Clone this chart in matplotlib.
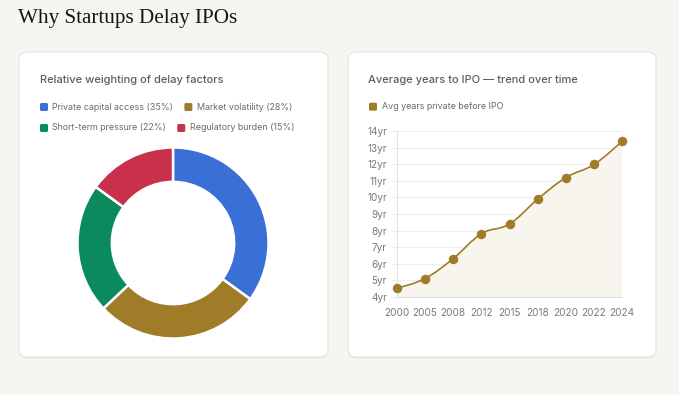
import numpy as np
import matplotlib
matplotlib.use("Agg")
from matplotlib import pyplot as plt
from matplotlib.patches import FancyBboxPatch, PathPatch
from matplotlib.path import Path
from matplotlib.transforms import IdentityTransform

W, H = 679, 395

# donut data
factor_labels = ["Private capital access", "Market volatility",
                 "Short-term pressure", "Regulatory burden"]
factor_share = [35, 28, 22, 15]
factor_colors = ["#3a6fd6", "#a07b28", "#0b8a5e", "#c8304b"]

# trend data
years = ["2000", "2005", "2008", "2012", "2015", "2018", "2020", "2022", "2024"]
avg_years = [4.5, 5.1, 6.3, 7.8, 8.4, 9.9, 11.2, 12.0, 13.4]
trend_label = "Avg years private before IPO"
trend_color = "#a07b28"

BG = "#f7f5f1"
SANS = ["Inter", "DejaVu Sans"]


def pt(px):
    return px * 0.72


def fbox(l, t, w, h):
    return [l / W, 1 - (t + h) / H, w / W, h / H]


def card(fig, l, t, r, b):
    shadow = FancyBboxPatch((l, H - b - 1.5), r - l, b - t,
                            boxstyle="round,pad=0,rounding_size=8",
                            fc="#ebe7e1", ec="none", transform=IdentityTransform(), zorder=-2)
    fig.add_artist(shadow)
    p = FancyBboxPatch((l, H - b), r - l, b - t,
                       boxstyle="round,pad=0,rounding_size=8",
                       fc="white", ec="#e7e3dd", lw=0.8, transform=IdentityTransform(), zorder=-1)
    fig.add_artist(p)


def legend_item(fig, renderer, x, y, color, label):
    sq = FancyBboxPatch((x, H - y - 4), 8, 8, boxstyle="round,pad=0,rounding_size=1.5",
                        fc=color, ec="none", transform=IdentityTransform())
    fig.add_artist(sq)
    t = fig.text((x + 12.5) / W, 1 - y / H, label, fontsize=pt(8.9), color="#6b6b6b",
                 va="center", ha="left", family=SANS)
    bb = t.get_window_extent(renderer)
    return bb.x1


fig = plt.figure(figsize=(W / 100, H / 100), dpi=100, facecolor=BG)
renderer = fig.canvas.get_renderer()

fig.text(18 / W, 1 - 19 / H, "Why Startups Delay IPOs", fontsize=pt(21.2),
         family=["Liberation Serif", "DejaVu Serif"], color="#151515", va="center", ha="left")

card(fig, 19, 52, 328, 357)
card(fig, 348, 52, 656, 357)

# ---- left card: donut
fig.text(40 / W, 1 - 80 / H, "Relative weighting of delay factors", fontsize=pt(11.1),
         color="#5e5e5e", fontweight="medium", family=SANS, va="center")

rows = [[0, 1], [2, 3]]
for ri, row in enumerate(rows):
    x = 40
    for i in row:
        x1 = legend_item(fig, renderer, x, 107 + ri * 21, factor_colors[i],
                         f"{factor_labels[i]} ({factor_share[i]}%)")
        x = x1 + 11

ax1 = fig.add_axes(fbox(173 - 96, 243 - 96, 192, 192))
ax1.pie(factor_share, colors=factor_colors, startangle=90, counterclock=False, radius=1,
        wedgeprops=dict(width=0.36, edgecolor="white", linewidth=1.8))
ax1.set_xlim(-1.005, 1.005)
ax1.set_ylim(-1.005, 1.005)
ax1.set_aspect("equal")
ax1.axis("off")

# ---- right card: trend line
fig.text(368 / W, 1 - 80 / H, "Average years to IPO \u2014 trend over time", fontsize=pt(11.1),
         color="#5e5e5e", fontweight="medium", family=SANS, va="center")
legend_item(fig, renderer, 369, 106.7, trend_color, trend_label)

ax2 = fig.add_axes(fbox(396.7, 131.3, 225.6, 165.4))
ax2.set_facecolor("none")
xs = np.arange(len(years))
ys = np.array(avg_years)

# chart.js-like bezier through the points
tension = 0.4
verts = [(xs[0], ys[0])]
codes = [Path.MOVETO]
for i in range(len(xs) - 1):
    p0 = max(i - 1, 0)
    p3 = min(i + 2, len(xs) - 1)
    c1 = (xs[i] + tension * 0.5 * (xs[i + 1] - xs[p0]), ys[i] + tension * 0.5 * (ys[i + 1] - ys[p0]))
    c2 = (xs[i + 1] - tension * 0.5 * (xs[p3] - xs[i]), ys[i + 1] - tension * 0.5 * (ys[p3] - ys[i]))
    verts += [c1, c2, (xs[i + 1], ys[i + 1])]
    codes += [Path.CURVE4] * 3

fill_verts = verts + [(xs[-1], 4), (xs[0], 4), (xs[0], ys[0])]
fill_codes = codes + [Path.LINETO, Path.LINETO, Path.CLOSEPOLY]
ax2.add_patch(PathPatch(Path(fill_verts, fill_codes), fc="#f8f4ee", ec="none", zorder=1))
ax2.add_patch(PathPatch(Path(verts, codes), fc="none", ec=trend_color, lw=1.2, zorder=3,
                        clip_on=False))
ax2.plot(xs, ys, "o", color=trend_color, ms=5.8, zorder=4, clip_on=False)

ax2.set_xlim(0, len(years) - 1)
ax2.set_ylim(4, 14)
ax2.set_yticks(range(4, 15))
ax2.set_yticklabels([f"{v}yr" for v in range(4, 15)])
ax2.set_xticks(xs)
ax2.set_xticklabels(years)
ax2.grid(axis="y", color="#eeeeee", lw=0.8, zorder=0)
ax2.set_axisbelow(True)
for s in ["top", "right"]:
    ax2.spines[s].set_visible(False)
for s in ["left", "bottom"]:
    ax2.spines[s].set_color("#e0e0e0")
    ax2.spines[s].set_linewidth(0.8)
ax2.tick_params(axis="y", length=4, color="#eeeeee", pad=3, labelsize=pt(10), labelcolor="#7a7a7a")
ax2.tick_params(axis="x", length=0, pad=8, labelsize=pt(10), labelcolor="#7a7a7a")
for lab in ax2.get_xticklabels() + ax2.get_yticklabels():
    lab.set_family(SANS)

fig.savefig("out.png", dpi=100, facecolor=BG)
